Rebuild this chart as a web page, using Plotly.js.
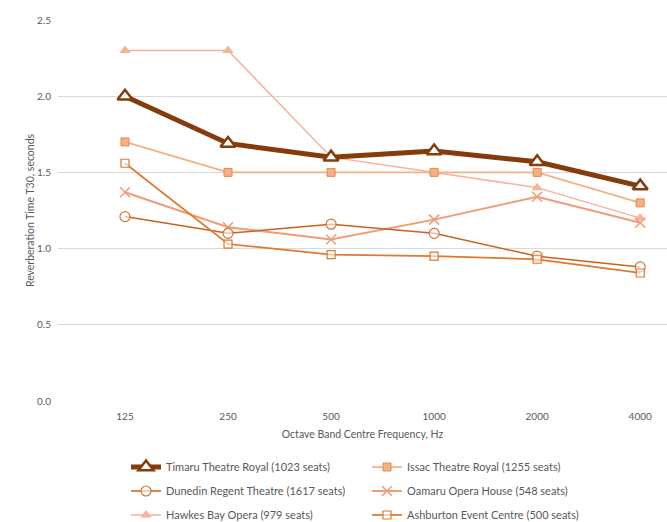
<!DOCTYPE html>
<html><head><meta charset="utf-8">
<script src="https://cdn.plot.ly/plotly-3.0.1.min.js"></script>
<style>body{margin:0;background:#fff}#c{width:667px;height:522px}</style>
</head><body><div id="c"></div>
<script>
const freqs = ['125','250','500','1000','2000','4000'];
const timaru = [2.00, 1.69, 1.60, 1.64, 1.57, 1.41];
const issac = [1.70, 1.50, 1.50, 1.50, 1.50, 1.30];
const dunedin = [1.21, 1.10, 1.16, 1.10, 0.95, 0.88];
const oamaru = [1.37, 1.14, 1.06, 1.19, 1.34, 1.17];
const hawkes = [2.30, 2.30, 1.60, 1.50, 1.40, 1.20];
const ashburton = [1.56, 1.03, 0.96, 0.95, 0.93, 0.84];
const names = ['Timaru Theatre Royal (1023 seats)','Issac Theatre Royal (1255 seats)',
 'Dunedin Regent Theatre (1617 seats)','Oamaru Opera House (548 seats)',
 'Hawkes Bay Opera (979 seats)','Ashburton Event Centre (500 seats)'];

const traces = [
 {y: hawkes, name: names[4], legend:'legend3', line:{color:'#F7B29A', width:1.5},
  marker:{symbol:'triangle-up', size:10, color:'#F7B29A'}},
 {y: issac, name: names[1], legend:'legend', line:{color:'#F4B183', width:1.75},
  marker:{symbol:'square', size:8, color:'#F4B183', line:{color:'#E8894E', width:1}}},
 {y: oamaru, name: names[3], legend:'legend2', line:{color:'#F09C78', width:2},
  marker:{symbol:'x-thin', size:10, color:'#F09C78', line:{color:'#F09C78', width:1.5}}},
 {y: dunedin, name: names[2], legend:'legend2', line:{color:'#C9621F', width:1.5},
  marker:{symbol:'circle', size:10, color:'rgba(255,255,255,0.6)', line:{color:'#D2733A', width:1.2}}},
 {y: ashburton, name: names[5], legend:'legend3', line:{color:'#E07830', width:1.75},
  marker:{symbol:'square', size:8, color:'rgba(255,255,255,0.6)', line:{color:'#E07830', width:1.2}}},
 {y: timaru, name: names[0], legend:'legend', line:{color:'#843C0C', width:5},
  marker:{symbol:'triangle-up', size:13, color:'#FFFFFF', line:{color:'#843C0C', width:2.5}}}
].map(t => Object.assign({x: freqs, type:'scatter', mode:'lines+markers'}, t));

const order = {};
names.forEach((n,i)=>order[n]=i);
traces.forEach(t => t.legendrank = order[t.name]);

const H = 522;
function ly(py){ return 1 - py/H; }
const legCommon = {orientation:'h', xref:'container', yref:'container', xanchor:'left', yanchor:'middle', x:126/667,
  entrywidth:196, entrywidthmode:'pixels', font:{family:'Lato, Carlito, sans-serif', size:11, color:'#595959'},
  bgcolor:'rgba(0,0,0,0)', itemwidth:30, traceorder:'normal'};

const layout = {
 width:667, height:522, margin:{l:58, r:0, t:20, b:121},
 paper_bgcolor:'#fff', plot_bgcolor:'#fff',
 font:{family:'Lato, Carlito, sans-serif', size:10, color:'#595959'},
 xaxis:{type:'category', range:[-0.65, 5.26], showgrid:false, zeroline:false, showline:false,
   ticks:'', tickfont:{size:10, color:'#595959'}, ticklabelstandoff:8, automargin:false,
   title:{text:'Octave Band Centre Frequency, Hz', font:{size:10.5, color:'#595959'}, standoff:9}},
 yaxis:{range:[0,2.5], dtick:0.5, tickformat:'.1f', gridcolor:'#D9D9D9', gridwidth:1,
   zeroline:false, showline:false, ticks:'', ticklabelstandoff:6, automargin:false,
   tickfont:{size:10, color:'#595959'},
   title:{text:'Reverberation Time T30, seconds', font:{size:10.5, color:'#595959'}, standoff:0}},
 showlegend:true,
 legend: Object.assign({}, legCommon, {y: ly(467)}),
 legend2: Object.assign({}, legCommon, {y: ly(491)}),
 legend3: Object.assign({}, legCommon, {y: ly(515)})
};
Plotly.newPlot('c', traces, layout, {displayModeBar:false, staticPlot:true});
</script></body></html>
